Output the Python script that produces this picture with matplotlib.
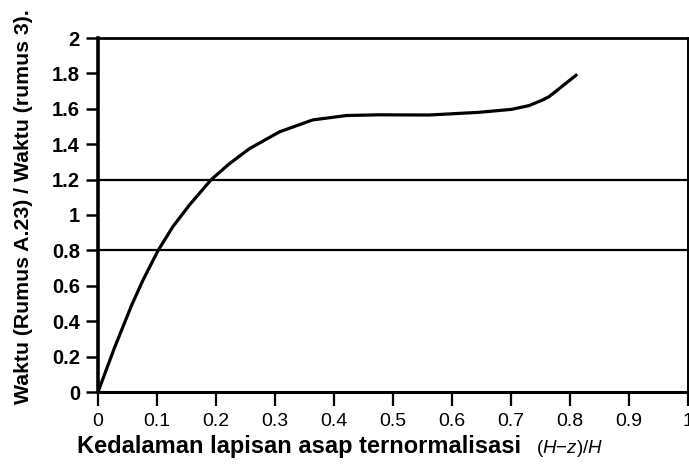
import matplotlib
matplotlib.use("Agg")
import matplotlib.pyplot as plt

# curve
depth = [0, 0.028, 0.057, 0.076, 0.102, 0.127, 0.155, 0.192, 0.223, 0.257,
         0.308, 0.364, 0.421, 0.477, 0.562, 0.646, 0.702, 0.731, 0.753,
         0.765, 0.788, 0.813]
ratio = [0, 0.25, 0.49, 0.63, 0.80, 0.934, 1.056, 1.20, 1.29, 1.375,
         1.47, 1.537, 1.562, 1.566, 1.565, 1.58, 1.597, 1.618, 1.648,
         1.668, 1.729, 1.795]
ref_lines = [0.8, 1.2]
x_ticks = [0, 0.1, 0.2, 0.3, 0.4, 0.5, 0.6, 0.7, 0.8, 0.9, 1.0]
x_labels = ["0", "0.1", "0.2", "0.3", "0.4", "0.5", "0.6", "0.7", "0.8", "0.9", "1"]
y_ticks = [0, 0.2, 0.4, 0.6, 0.8, 1.0, 1.2, 1.4, 1.6, 1.8, 2.0]
y_labels = ["0", "0.2", "0.4", "0.6", "0.8", "1", "1.2", "1.4", "1.6", "1.8", "2"]

plt.rcParams["font.family"] = ["Liberation Sans", "DejaVu Sans"]
plt.rcParams["mathtext.fontset"] = "custom"
plt.rcParams["mathtext.rm"] = "Liberation Sans"
plt.rcParams["mathtext.it"] = "Liberation Sans:italic"

fig = plt.figure(figsize=(6.89, 4.66), dpi=100)
ax = fig.add_axes([98 / 689, 74 / 466, 589.5 / 689, 354 / 466])

for y in ref_lines:
    ax.axhline(y, color="black", linewidth=1.6)
ax.plot(depth, ratio, color="black", linewidth=2.3, solid_capstyle="butt",
        solid_joinstyle="round")

ax.set_xlim(0, 1.0)
ax.set_ylim(0, 2.0)
ax.set_xticks(x_ticks)
ax.set_xticklabels(x_labels, fontsize=14)
ax.set_yticks(y_ticks)
ax.set_yticklabels(y_labels, fontsize=14.5, fontweight="bold")
ax.tick_params(axis="x", length=10, width=1.6, pad=5)
ax.tick_params(axis="y", length=9, width=1.8, pad=4)

ax.spines["left"].set_linewidth(2.6)
ax.spines["bottom"].set_linewidth(2.2)
ax.spines["top"].set_linewidth(2.0)
ax.spines["right"].set_linewidth(1.4)

fig.text(77 / 689, 1 - 453 / 466, "Kedalaman lapisan asap ternormalisasi",
         fontsize=17, fontweight="bold", ha="left", va="baseline")
fig.text(536 / 689, 1 - 453 / 466, r"$(H{-}z)/H$",
         fontsize=13.5, ha="left", va="baseline")
fig.text(24 / 689, 1 - 207 / 466, "Waktu (Rumus A.23) / Waktu (rumus 3).",
         fontsize=15.3, fontweight="bold", rotation=90, ha="center", va="center")

fig.savefig("out.png", dpi=100)
